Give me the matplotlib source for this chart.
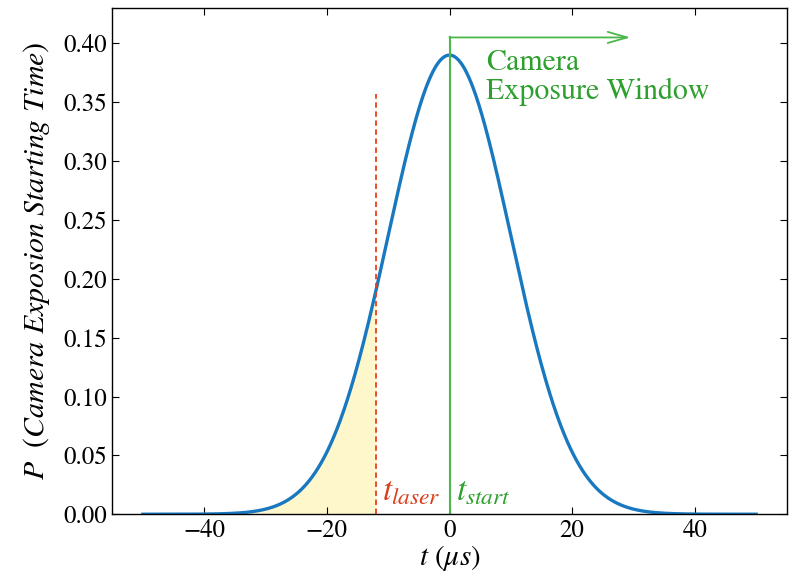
import numpy as np
import matplotlib.pyplot as plt

# curve: probability density of camera exposure start time (gaussian)
t_range = [-50, 50]
peak = 0.39
mu = 0.0
sigma = 10.0
t_laser = -12
t_start = 0
laser_line_top = 0.357
window_top = 0.405
arrow_end = 29.5

plt.rcParams['font.family'] = 'STIXGeneral'
plt.rcParams['mathtext.fontset'] = 'stix'

t = np.linspace(t_range[0], t_range[1], 1001)
p = peak * np.exp(-0.5 * ((t - mu) / sigma) ** 2)

fig = plt.figure(figsize=(7.9, 5.72), dpi=100)
ax = fig.add_axes([0.142, 0.101, 0.854, 0.885])

mask = t <= t_laser
ax.fill_between(t[mask], 0, p[mask], color='#fff7cc', lw=0)
ax.plot(t, p, color='#1878c0', lw=2.4)

ax.plot([t_laser, t_laser], [0, laser_line_top], color='#e8401c', lw=1.3, ls='--', dashes=(3, 2))
ax.plot([t_start, t_start], [0, window_top], color='#4cb84c', lw=1.5)
ax.annotate('', xy=(arrow_end, window_top), xytext=(t_start, window_top),
            arrowprops=dict(arrowstyle='->,head_length=1.4,head_width=0.4', color='#4cb84c', lw=1.3,
                            shrinkA=0, shrinkB=0))

ax.text(6.0, 0.395, 'Camera\nExposure Window', color='#2ea02e', fontsize=21.5, va='top', ha='left',
        linespacing=1.05)
ax.text(t_laser + 1.0, 0.006, r'$t_{laser}$', color='#d8401c', fontsize=24, va='bottom', ha='left')
ax.text(t_start + 1.0, 0.006, r'$t_{start}$', color='#2ea02e', fontsize=24, va='bottom', ha='left')

ax.set_xlim(-55, 55)
ax.set_ylim(0, 0.43)
ax.set_xticks([-40, -20, 0, 20, 40])
ax.set_yticks(np.arange(0, 0.41, 0.05))
ax.set_yticklabels([f'{v:.2f}' for v in np.arange(0, 0.41, 0.05)])
ax.tick_params(direction='in', top=True, right=True, labelsize=18, length=5, width=0.8)
for s in ax.spines.values():
    s.set_linewidth(1.0)

ax.set_xlabel(r'$t\ (\mu s)$', fontsize=21, labelpad=0)
ax.set_ylabel(r'$P\ \ (Camera\ Exposion\ Starting\ Time)$', fontsize=21.5, labelpad=8)

fig.savefig('out.png', dpi=100)
